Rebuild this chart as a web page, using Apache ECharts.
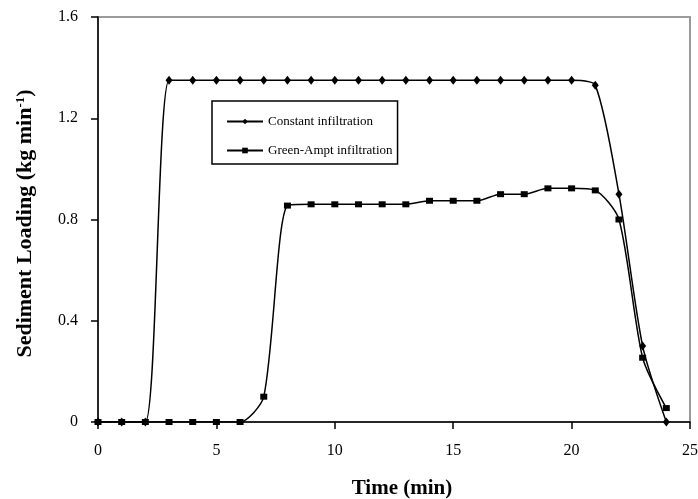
<!DOCTYPE html>
<html>
<head>
<meta charset="utf-8">
<script src="https://cdn.jsdelivr.net/npm/echarts@6/dist/echarts.min.js"></script>
<style>
html,body{margin:0;padding:0;background:#fff;}
#chart{width:698px;height:499px;}
</style>
</head>
<body>
<div id="chart"></div>
<script>
var time = [0,1,2,3,4,5,6,7,8,9,10,11,12,13,14,15,16,17,18,19,20,21,22,23,24];
var constantInfiltration = [0,0,0,1.35,1.35,1.35,1.35,1.35,1.35,1.35,1.35,1.35,1.35,1.35,1.35,1.35,1.35,1.35,1.35,1.35,1.35,1.33,0.90,0.30,0];
var greenAmptInfiltration = [0,0,0,0,0,0,0,0.10,0.855,0.86,0.86,0.86,0.86,0.86,0.874,0.874,0.874,0.90,0.90,0.923,0.923,0.915,0.80,0.254,0.055];
var seriesNames = ['Constant infiltration','Green-Ampt infiltration'];
var xTitle = 'Time (min)';
var yTitle = 'Sediment Loading (kg min{sup|-1})';

function pairs(xs, ys){ return xs.map(function(x,i){ return [x, ys[i]]; }); }

var font = 'Liberation Serif';
var chart = echarts.init(document.getElementById('chart'), null, {renderer:'canvas'});
chart.setOption({
  animation:false,
  backgroundColor:'#ffffff',
  grid:{left:98,right:8,top:17,bottom:77,show:true,borderColor:'#9a9a9a',borderWidth:2,backgroundColor:'transparent',outerBoundsMode:'none',containLabel:false},
  legend:{
    orient:'vertical', left:212, top:101,
    data:seriesNames,
    itemWidth:36, itemHeight:7, itemGap:16,
    padding:[14,5,7,14],
    borderColor:'#000', borderWidth:1.5,
    textStyle:{fontFamily:font,fontSize:13,color:'#000'}
  },
  xAxis:{
    type:'value',min:0,max:25,interval:5,
    name:xTitle,nameLocation:'middle',nameGap:56,
    nameTextStyle:{fontFamily:font,fontSize:21,fontWeight:'bold',color:'#000',padding:[0,0,0,16]},
    axisLine:{show:true,onZero:false,lineStyle:{color:'#000',width:1.5}},
    axisTick:{show:true,inside:false,length:7,lineStyle:{color:'#000',width:1.5}},
    axisLabel:{margin:21,fontFamily:font,fontSize:16,color:'#000'},
    splitLine:{show:false}
  },
  yAxis:{
    type:'value',min:0,max:1.6,interval:0.4,
    name:yTitle,nameLocation:'middle',nameGap:62,nameRotate:90,
    nameTextStyle:{fontFamily:font,fontSize:22,fontWeight:'bold',color:'#000',padding:[0,8,0,0],
      rich:{sup:{fontFamily:font,fontSize:13,fontWeight:'bold',color:'#000',verticalAlign:'top',padding:[0,0,9,0]}}},
    axisLine:{show:true,onZero:false,lineStyle:{color:'#000',width:1.5}},
    axisTick:{show:true,inside:false,length:7,lineStyle:{color:'#000',width:1.5}},
    axisLabel:{margin:20,fontFamily:font,fontSize:16,color:'#000'},
    splitLine:{show:false}
  },
  series:[
    {
      name:seriesNames[0],type:'line',data:pairs(time,constantInfiltration),
      smooth:0.25,symbol:'diamond',symbolSize:[7,9],
      lineStyle:{color:'#000',width:1.5},itemStyle:{color:'#000'},z:3
    },
    {
      name:seriesNames[1],type:'line',data:pairs(time,greenAmptInfiltration),
      smooth:0.25,symbol:'rect',symbolSize:[7,6],
      lineStyle:{color:'#000',width:1.5},itemStyle:{color:'#000'},z:2
    }
  ]
});
</script>
</body>
</html>
